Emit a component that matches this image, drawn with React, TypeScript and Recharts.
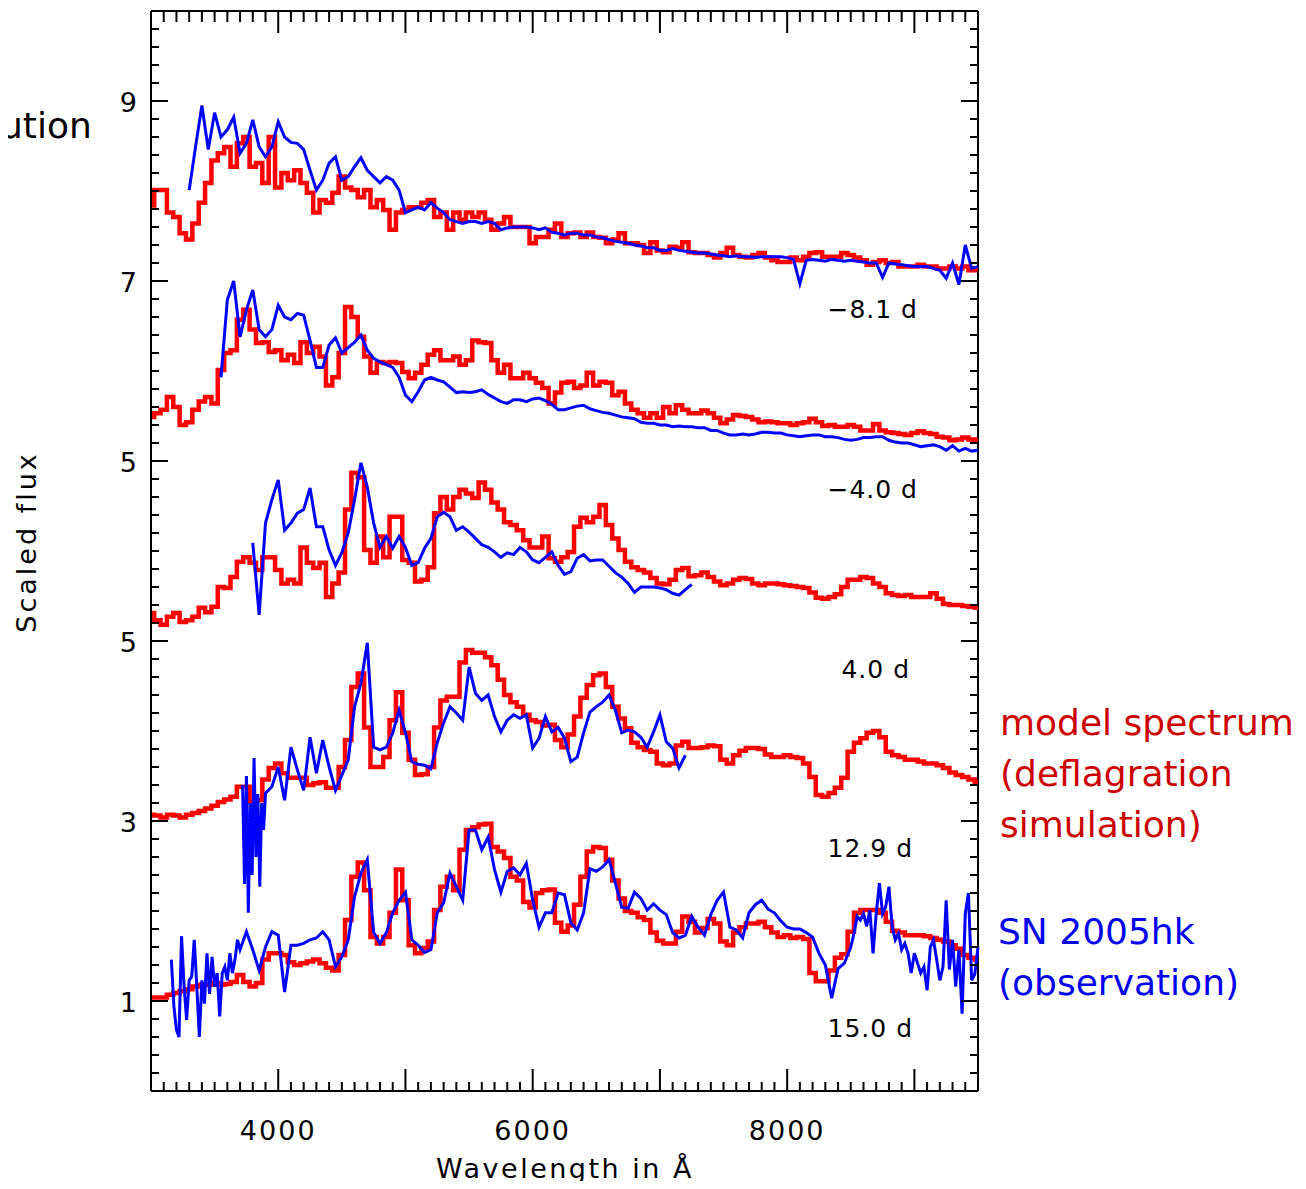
import React from "react";
import { LineChart, Line, XAxis, YAxis } from "recharts";

// spectra are sampled in 50 Å bins unless a segment says otherwise; values are offset "scaled flux"
const BIN = 50;

const modelStart = 3000;

const modelM81 = [
  9.84, 10.01, 10.01, 9.76, 9.71, 9.53, 9.46, 9.64, 9.87, 10.09,
  10.34, 10.42, 10.49, 10.27, 10.53, 10.6, 10.27, 10.31, 10.09, 10.6,
  10.04, 10.2, 10.12, 10.23, 10.09, 9.98, 9.76, 9.9, 9.87, 9.98,
  10.16, 10.04, 10.01, 9.93, 10.01, 9.82, 9.9, 9.79, 9.57, 9.76,
  9.79, 9.82, 9.82, 9.87, 9.9, 9.71, 9.76, 9.57, 9.76, 9.68,
  9.76, 9.71, 9.76, 9.68, 9.57, 9.64, 9.71, 9.6, 9.6, 9.6,
  9.42, 9.49, 9.49, 9.57, 9.64, 9.49, 9.53, 9.54, 9.49, 9.54,
  9.49, 9.48, 9.42, 9.46, 9.53, 9.42, 9.42, 9.4, 9.31, 9.43,
  9.34, 9.32, 9.38, 9.37, 9.43, 9.32, 9.31, 9.31, 9.29, 9.26,
  9.31, 9.37, 9.29, 9.27, 9.26, 9.29, 9.31, 9.26, 9.23, 9.21,
  9.21, 9.26, 9.23, 9.27, 9.31, 9.32, 9.27, 9.27, 9.27, 9.31,
  9.29, 9.26, 9.23, 9.18, 9.21, 9.23, 9.2, 9.21, 9.16, 9.16,
  9.16, 9.18, 9.16, 9.16, 9.14, 9.14, 9.16, 9.14, 9.16, 9.12,
  9.14,
];

const obsM81Start = 3300;
const obsM81 = [
  10.01, 10.49, 10.95, 10.46, 10.87, 10.6, 10.68, 10.82, 10.42, 10.53,
  10.79, 10.49, 10.38, 10.49, 10.77, 10.6, 10.54, 10.53, 10.46, 10.23,
  10.01, 10.12, 10.31, 10.38, 10.12, 10.16, 10.27, 10.37, 10.23, 10.16,
  10.09, 10.16, 10.12, 10.01, 9.76, 9.79, 9.82, 9.79, 9.87, 9.81,
  9.76, 9.68, 9.66, 9.64, 9.66, 9.66, 9.64, 9.66, 9.64, 9.57,
  9.59, 9.6, 9.6, 9.6, 9.59, 9.57, 9.59, 9.54, 9.53, 9.51,
  9.53, 9.53, 9.51, 9.51, 9.49, 9.48, 9.46, 9.44, 9.43, 9.42,
  9.4, 9.39, 9.37, 9.37, 9.34, 9.34, 9.36, 9.34, 9.33, 9.32,
  9.31, 9.31, 9.3, 9.29, 9.28, 9.27, 9.28, 9.27, 9.27, 9.26,
  9.27, 9.27, 9.27, 9.27, 9.26, 9.24, 8.97, 9.23, 9.24, 9.23,
  9.22, 9.24, 9.23, 9.22, 9.23, 9.22, 9.21, 9.2, 9.2, 9.04,
  9.2, 9.19, 9.18, 9.17, 9.16, 9.16, 9.16, 9.14, 9.12, 9.03,
  9.2, 8.96, 9.4, 9.14, 9.16,
];

const modelM40 = [
  7.49, 7.53, 7.57, 7.71, 7.6, 7.4, 7.43, 7.57, 7.66, 7.71,
  7.64, 8.01, 8.2, 8.23, 8.57, 8.68, 8.46, 8.31, 8.32, 8.21,
  8.23, 8.12, 8.18, 8.09, 8.32, 8.2, 8.27, 8.16, 7.84, 7.93,
  8.2, 8.71, 8.6, 8.38, 8.16, 7.98, 8.1, 8.09, 8.1, 8.09,
  7.99, 7.92, 7.98, 8.07, 8.18, 8.23, 8.12, 8.12, 8.16, 8.07,
  8.12, 8.34, 8.32, 8.31, 8.12, 7.98, 8.07, 7.92, 7.92, 7.98,
  7.92, 7.87, 7.81, 7.64, 7.76, 7.87, 7.88, 7.81, 7.84, 7.98,
  7.84, 7.88, 7.87, 7.73, 7.77, 7.64, 7.57, 7.53, 7.48, 7.53,
  7.48, 7.6, 7.53, 7.62, 7.57, 7.53, 7.53, 7.56, 7.53, 7.48,
  7.42, 7.46, 7.51, 7.5, 7.49, 7.46, 7.43, 7.44, 7.43, 7.42,
  7.42, 7.4, 7.42, 7.43, 7.47, 7.43, 7.39, 7.4, 7.38, 7.38,
  7.4, 7.38, 7.34, 7.34, 7.41, 7.34, 7.32, 7.31, 7.3, 7.29,
  7.31, 7.33, 7.31, 7.3, 7.27, 7.26, 7.23, 7.24, 7.26, 7.24,
  7.23,
];

const obsM40Start = 3550;
const obsM40 = [
  7.93, 8.79, 9.0, 8.38, 8.68, 8.9, 8.46, 8.38, 8.46,
  8.73, 8.6, 8.57, 8.64, 8.62, 8.34, 8.04, 8.04, 8.29, 8.37,
  8.2, 8.26, 8.32, 8.4, 8.23, 8.14, 8.1, 8.07, 8.04, 7.93,
  7.73, 7.66, 7.77, 7.9, 7.93, 7.9, 7.88, 7.82, 7.76, 7.77,
  7.76, 7.77, 7.79, 7.74, 7.7, 7.66, 7.64, 7.68, 7.68, 7.66,
  7.69, 7.7, 7.67, 7.63, 7.57, 7.57, 7.59, 7.61, 7.62, 7.58,
  7.56, 7.54, 7.53, 7.51, 7.49, 7.48, 7.47, 7.43, 7.42, 7.42,
  7.4, 7.4, 7.38, 7.39, 7.38, 7.38, 7.37, 7.37, 7.34, 7.34,
  7.31, 7.29, 7.29, 7.3, 7.29, 7.3, 7.32, 7.32, 7.31, 7.31,
  7.29, 7.28, 7.27, 7.28, 7.29, 7.29, 7.27, 7.27, 7.26, 7.24,
  7.23, 7.24, 7.26, 7.26, 7.27, 7.27, 7.23, 7.21, 7.2, 7.2,
  7.18, 7.16, 7.17, 7.18, 7.16, 7.12, 7.17, 7.11, 7.14, 7.11,
  7.12,
];

const modelP40 = [
  5.31, 5.23, 5.18, 5.27, 5.31, 5.21, 5.23, 5.27, 5.37, 5.32,
  5.38, 5.6, 5.59, 5.71, 5.88, 5.93, 5.87, 5.79, 5.93, 5.93,
  5.79, 5.64, 5.68, 5.64, 6.04, 5.87, 5.81, 5.87, 5.49, 5.64,
  5.76, 6.46, 6.87, 6.82, 6.01, 5.87, 6.16, 5.93, 6.38, 6.38,
  5.9, 5.87, 5.66, 5.68, 5.82, 6.42, 6.6, 6.46, 6.6, 6.68,
  6.64, 6.59, 6.76, 6.68, 6.54, 6.46, 6.32, 6.29, 6.23, 6.12,
  6.04, 6.04, 6.16, 5.92, 5.88, 5.93, 5.99, 6.27, 6.37, 6.32,
  6.38, 6.51, 6.29, 6.14, 6.01, 5.88, 5.82, 5.79, 5.76, 5.7,
  5.64, 5.63, 5.68, 5.79, 5.81, 5.72, 5.73, 5.76, 5.71, 5.66,
  5.62, 5.64, 5.68, 5.7, 5.69, 5.64, 5.62, 5.64, 5.64, 5.63,
  5.62, 5.61, 5.6, 5.59, 5.54, 5.48, 5.47, 5.49, 5.52, 5.6,
  5.68, 5.68, 5.71, 5.7, 5.64, 5.6, 5.53, 5.51, 5.5, 5.51,
  5.49, 5.49, 5.49, 5.53, 5.47, 5.41, 5.4, 5.4, 5.39, 5.38,
  5.37,
];

const obsP40Start = 3800;
const obsP40 = [
  6.09, 5.29, 6.31, 6.57,
  6.79, 6.23, 6.31, 6.42, 6.46, 6.7, 6.27, 6.27, 6.01, 5.84,
  5.98, 6.2, 6.57, 6.98, 6.71, 6.31, 6.04, 6.16, 6.03, 6.16,
  6.04, 5.84, 5.87, 6.03, 6.14, 6.38, 6.43, 6.38, 6.23, 6.27,
  6.21, 6.14, 6.07, 6.04, 5.99, 5.93, 5.98, 5.96, 6.04, 5.99,
  5.9, 5.87, 5.93, 5.99, 5.84, 5.74, 5.77, 5.92, 5.96, 5.89,
  5.9, 5.9, 5.83, 5.76, 5.71, 5.64, 5.54, 5.6, 5.6, 5.6,
  5.59, 5.57, 5.53, 5.51, 5.57, 5.63,
];

const modelP129 = [
  3.07, 3.06, 3.04, 3.07, 3.06, 3.04, 3.07, 3.09, 3.11, 3.14,
  3.17, 3.21, 3.24, 3.27, 3.38, 3.38, 3.21, 3.23, 3.46, 3.59,
  3.64, 3.53, 3.48, 3.48, 3.48, 3.4, 3.42, 3.43, 3.37, 3.37,
  3.6, 3.9, 4.49, 4.64, 4.04, 3.6, 3.6, 3.71, 4.12, 4.43,
  3.98, 3.68, 3.51, 3.52, 3.6, 4.04, 4.34, 4.38, 4.38, 4.76,
  4.9, 4.87, 4.87, 4.82, 4.73, 4.57, 4.4, 4.32, 4.27, 4.18,
  4.12, 4.1, 4.06, 4.07, 3.9, 3.82, 3.96, 4.16, 4.37, 4.51,
  4.62, 4.64, 4.49, 4.27, 4.14, 4.03, 3.87, 3.82, 3.79, 3.77,
  3.64, 3.62, 3.64, 3.84, 3.88, 3.81, 3.81, 3.82, 3.84, 3.83,
  3.68, 3.64, 3.73, 3.78, 3.81, 3.81, 3.8, 3.74, 3.71, 3.71,
  3.73, 3.71, 3.7, 3.64, 3.49, 3.29, 3.27, 3.31, 3.37, 3.48,
  3.77, 3.87, 3.92, 3.98, 4.0, 3.93, 3.77, 3.73, 3.71, 3.68,
  3.68, 3.66, 3.64, 3.64, 3.62, 3.59, 3.54, 3.51, 3.49, 3.46,
  3.43,
];

// noisy blue onset of the 12.9 d spectrum, 15 Å bins
const obsP129OnsetStart = 3720;
const obsP129OnsetBin = 15;
const obsP129Onset = [3.4, 2.3, 3.5, 1.98, 3.2, 2.4, 3.7, 2.6, 3.3, 2.27, 3.2, 2.9];

const obsP129Start = 3900;
const obsP129 = [
  3.31, 3.38,
  3.6, 3.23, 3.82, 3.57, 3.34, 3.93, 3.53, 3.9, 3.6, 3.34,
  3.51, 3.68, 4.27, 4.53, 4.98, 3.82, 3.79, 3.82, 3.98, 4.23,
  3.98, 3.66, 3.63, 3.62, 3.58, 3.87, 4.09, 4.27, 4.2, 4.12,
  4.71, 4.42, 4.34, 4.4, 4.16, 3.99, 4.12, 4.18, 4.14, 4.18,
  3.81, 3.92, 4.16, 3.99, 4.04, 3.92, 3.66, 3.71, 3.98, 4.21,
  4.27, 4.32, 4.4, 4.23, 3.98, 4.01, 3.99, 3.93, 3.82, 3.99,
  4.18, 3.88, 3.81, 3.59, 3.73,
];

const modelP150 = [
  1.04, 1.04, 1.04, 1.07, 1.09, 1.11, 1.13, 1.16, 1.18, 1.18,
  1.2, 1.18, 1.19, 1.21, 1.29, 1.21, 1.16, 1.2, 1.46, 1.53,
  1.53, 1.51, 1.43, 1.4, 1.42, 1.44, 1.46, 1.42, 1.37, 1.34,
  1.51, 1.9, 2.38, 2.54, 2.23, 1.71, 1.64, 1.71, 1.98, 2.46,
  2.12, 1.62, 1.53, 1.59, 1.66, 2.01, 2.27, 2.38, 2.23, 2.68,
  2.9, 2.93, 2.96, 2.97, 2.71, 2.66, 2.59, 2.38, 2.34, 2.1,
  2.04, 2.2, 2.23, 2.24, 1.87, 1.77, 1.84, 2.07, 2.38, 2.66,
  2.71, 2.7, 2.57, 2.34, 2.14, 2.0, 1.98, 1.93, 1.9, 1.76,
  1.67, 1.64, 1.64, 1.77, 1.94, 1.88, 1.76, 1.81, 1.91, 1.86,
  1.66, 1.62, 1.76, 1.82, 1.86, 1.86, 1.88, 1.82, 1.76, 1.71,
  1.73, 1.7, 1.71, 1.69, 1.31, 1.22, 1.22, 1.34, 1.48, 1.52,
  1.77, 1.98, 2.01, 2.01, 2.01, 1.98, 1.88, 1.78, 1.76, 1.73,
  1.73, 1.73, 1.72, 1.7, 1.68, 1.66, 1.62, 1.58, 1.51, 1.48,
  1.46,
];

// noisy blue edges of the 15.0 d spectrum
const obsP150BlueEdgeStart = 3160;
const obsP150BlueEdgeBin = 20;
const obsP150BlueEdge = [
  1.46, 0.94, 0.68, 0.6, 1.72, 1.16, 0.79, 1.23, 1.27, 1.68,
  1.16, 0.6, 1.23, 0.97, 1.53, 1.08, 1.49, 1.16, 1.31, 0.83,
  1.31, 1.38, 1.23, 1.53, 1.31, 1.46, 1.68, 1.57,
];

const obsP150Start = 3750;
const obsP150 = [
  1.77, 1.57, 1.34, 1.6, 1.77,
  1.73, 1.1, 1.62, 1.62, 1.64, 1.68, 1.7, 1.77, 1.68, 1.38,
  1.49, 1.68, 2.16, 2.42, 2.57, 1.76, 1.64, 1.76, 1.98, 2.12,
  2.21, 1.68, 1.62, 1.54, 1.57, 1.98, 2.09, 2.42, 2.27, 2.12,
  2.9, 2.9, 2.68, 2.82, 2.46, 2.21, 2.44, 2.48, 2.4, 2.53,
  2.12, 1.82, 1.98, 1.98, 2.2, 2.18, 1.87, 1.79, 1.98, 2.47,
  2.44, 2.49, 2.57, 2.31, 2.04, 2.03, 2.21, 2.14, 2.01, 2.08,
  2.01, 1.96, 1.76, 1.7, 1.73, 1.94, 1.82, 1.73, 1.96, 2.12,
  2.21, 1.82, 1.79, 1.7, 1.98, 2.07, 2.12, 2.02, 1.98, 1.89,
  1.82, 1.8, 1.8, 1.76, 1.71, 1.53, 1.4, 1.03, 1.36, 1.42,
  1.6,
];

const obsP150RedEdgeStart = 8525;
const obsP150RedEdgeBin = 25;
const obsP150RedEdge = [
  1.75, 1.94, 1.9, 1.97, 1.83, 2.01, 1.53, 1.97, 2.31, 1.97,
  2.05, 2.27, 1.83, 1.68, 1.75, 1.57, 1.64, 1.53, 1.31, 1.53,
  1.42, 1.31, 1.38, 1.12, 1.6, 1.68, 1.46, 1.23, 1.38, 2.12,
  1.35, 1.68, 1.16, 1.57, 0.86, 1.97, 2.2, 1.23, 1.3, 1.6,
];

const epochs = ["\u22128.1 d", "\u22124.0 d", "4.0 d", "12.9 d", "15.0 d"];

// tick layout
const xTicks: number[] = [];
for (let w = 3000; w <= 9500; w += 100) xTicks.push(w);
const xLabels = [4000, 6000, 8000];

const yTicks: number[] = [];
for (let i = 0; i <= 60; i++) yTicks.push(i / 5);
const yLabels: Record<number, string> = { 1: "1", 3: "3", 5: "5", 7: "5", 9: "7", 11: "9" };

const toPoints = (start: number, values: number[], bin = BIN) =>
  values.map((v, i) => ({ w: start + i * bin, v }));

// chart frame
const CHART_W = 1306;
const CHART_H = 1189;
const MARGIN = { top: 11, right: 328, bottom: 0, left: 0 };
const X_AXIS_H = 98;
const Y_AXIS_W = 151;
const PLOT_W = CHART_W - MARGIN.right - Y_AXIS_W;
const PLOT_H = CHART_H - MARGIN.top - X_AXIS_H;

const RED = "#ff0000";
const BLUE = "#0000ff";
const FONT = "'DejaVu Sans', Verdana, sans-serif";

const isMajorY = (v: number) => {
  const r = Math.round(v);
  return Math.abs(v - r) < 1e-6 && r % 2 === 1;
};

// bottom axis tick also draws the matching inward tick on the top edge
const BottomTick = (props: any) => {
  const { x, y, payload } = props;
  const v = payload.value;
  const major = v % 1000 === 0;
  const top = y - PLOT_H;
  return (
    <g>
      <line x1={x} y1={y} x2={x} y2={y - (major ? 22 : 9)} stroke="#000" strokeWidth={2} />
      <line x1={x} y1={top} x2={x} y2={top + (major ? 22 : 11)} stroke="#000" strokeWidth={2} />
      {xLabels.includes(v) && (
        <text x={x} y={y + 49} textAnchor="middle" fontFamily={FONT} fontSize={27} letterSpacing={2} fill="#000">
          {v}
        </text>
      )}
    </g>
  );
};

// left axis tick also draws the matching inward tick on the right edge
const LeftTick = (props: any) => {
  const { x, y, payload } = props;
  const v = payload.value;
  const major = isMajorY(v);
  const right = x + PLOT_W;
  return (
    <g>
      <line x1={x} y1={y} x2={x + (major ? 17 : 8)} y2={y} stroke="#000" strokeWidth={2} />
      <line x1={right} y1={y} x2={right - (major ? 17 : 8)} y2={y} stroke="#000" strokeWidth={2} />
      {major && (
        <text x={x - 14} y={y + 11} textAnchor="end" fontFamily={FONT} fontSize={27} fill="#000">
          {yLabels[Math.round(v)]}
        </text>
      )}
    </g>
  );
};

const models = [modelM81, modelM40, modelP40, modelP129, modelP150];
const observations = [
  toPoints(obsM81Start, obsM81),
  toPoints(obsM40Start, obsM40),
  toPoints(obsP40Start, obsP40),
  [
    ...toPoints(obsP129OnsetStart, obsP129Onset, obsP129OnsetBin),
    ...toPoints(obsP129Start, obsP129),
  ],
  [
    ...toPoints(obsP150BlueEdgeStart, obsP150BlueEdge, obsP150BlueEdgeBin),
    ...toPoints(obsP150Start, obsP150),
    ...toPoints(obsP150RedEdgeStart, obsP150RedEdge, obsP150RedEdgeBin),
  ],
];

const epochPos = [
  { x: 918, y: 318 },
  { x: 918, y: 498 },
  { x: 910, y: 678 },
  { x: 913, y: 857 },
  { x: 913, y: 1037 },
];

const axisLine = { stroke: "#000", strokeWidth: 2 };

export default function App() {
  return (
    <div style={{ margin: -8, width: CHART_W, height: CHART_H, overflow: "hidden", background: "#fff" }}>
      <LineChart width={CHART_W} height={CHART_H} margin={MARGIN}>
        <XAxis
          dataKey="w"
          type="number"
          domain={[3000, 9500]}
          ticks={xTicks}
          interval={0}
          height={X_AXIS_H}
          tickSize={0}
          tickMargin={0}
          tickLine={false}
          axisLine={axisLine}
          tick={<BottomTick />}
        />
        <YAxis
          type="number"
          domain={[0, 12]}
          ticks={yTicks}
          interval={0}
          width={Y_AXIS_W}
          tickSize={0}
          tickMargin={0}
          tickLine={false}
          axisLine={axisLine}
          tick={<LeftTick />}
        />
        {models.map((m, i) => (
          <Line
            key={"model" + i}
            data={toPoints(modelStart, m)}
            dataKey="v"
            type="step"
            stroke={RED}
            strokeWidth={4.5}
            dot={false}
            activeDot={false}
            isAnimationActive={false}
          />
        ))}
        {observations.map((pts, i) => (
          <Line
            key={"obs" + i}
            data={pts}
            dataKey="v"
            type="linear"
            stroke={BLUE}
            strokeWidth={3}
            dot={false}
            activeDot={false}
            isAnimationActive={false}
          />
        ))}
        {/* top and right edges of the frame */}
        <line x1={Y_AXIS_W} y1={MARGIN.top} x2={Y_AXIS_W + PLOT_W} y2={MARGIN.top} stroke="#000" strokeWidth={2} />
        <line
          x1={Y_AXIS_W + PLOT_W}
          y1={MARGIN.top}
          x2={Y_AXIS_W + PLOT_W}
          y2={MARGIN.top + PLOT_H}
          stroke="#000"
          strokeWidth={2}
        />
        {epochs.map((label, i) => (
          <text
            key={label}
            x={epochPos[i].x}
            y={epochPos[i].y}
            textAnchor="end"
            fontFamily={FONT}
            fontSize={25}
            letterSpacing={1}
            fill="#000"
          >
            {label}
          </text>
        ))}
        <text
          x={565}
          y={1178}
          textAnchor="middle"
          fontFamily={FONT}
          fontSize={27}
          letterSpacing={2.5}
          fill="#000"
        >
          Wavelength in Å
        </text>
        <text
          x={0}
          y={0}
          transform="translate(36 542) rotate(-90)"
          textAnchor="middle"
          fontFamily={FONT}
          fontSize={27}
          letterSpacing={3}
          fill="#000"
        >
          Scaled flux
        </text>
        <text x={0} y={138} fontFamily={FONT} fontSize={36} fill="#000">
          ution
        </text>
        <text fontFamily={FONT} fontSize={36} fill="#cc0000">
          <tspan x={1000} y={735}>model spectrum</tspan>
          <tspan x={1000} y={786}>(deflagration</tspan>
          <tspan x={1000} y={837}>simulation)</tspan>
        </text>
        <text fontFamily={FONT} fontSize={36} fill="#0000ee">
          <tspan x={998} y={944}>SN 2005hk</tspan>
          <tspan x={998} y={995}>(observation)</tspan>
        </text>
      </LineChart>
    </div>
  );
}
